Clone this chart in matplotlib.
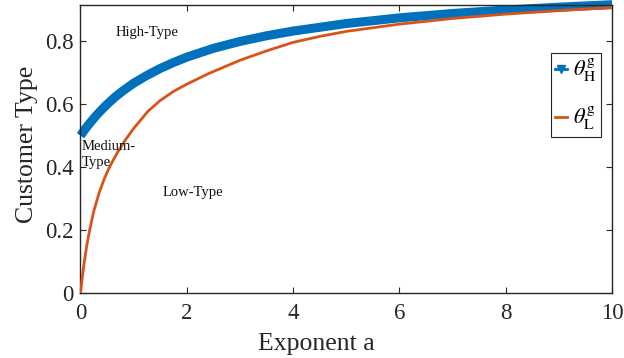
import matplotlib
matplotlib.use("Agg")
import matplotlib.pyplot as plt
from matplotlib.lines import Line2D

# Exponent values and customer-type thresholds
a_high = [0, 0.1, 0.2, 0.3, 0.4, 0.5, 0.65, 0.8, 1.0, 1.25, 1.5, 1.75, 2.0, 2.5,
          3.0, 3.5, 4.0, 5.0, 6.0, 7.0, 8.0, 9.0, 10.0]
theta_high = [0.5, 0.524, 0.545, 0.565, 0.583, 0.6, 0.623, 0.643, 0.667, 0.692,
              0.714, 0.733, 0.75, 0.778, 0.8, 0.818, 0.833, 0.857, 0.875, 0.889,
              0.9, 0.909, 0.917]

a_low = [0, 0.03, 0.07, 0.12, 0.17, 0.25, 0.35, 0.45, 0.55, 0.7, 0.85, 1.0, 1.27,
         1.5, 1.75, 2.0, 2.4, 3.0, 3.5, 4.0, 4.5, 5.0, 6.0, 7.0, 8.0, 9.0, 10.0]
theta_low = [0, 0.044, 0.097, 0.152, 0.198, 0.26, 0.318, 0.364, 0.402, 0.448,
             0.488, 0.523, 0.578, 0.612, 0.641, 0.664, 0.697, 0.74, 0.77, 0.797,
             0.816, 0.832, 0.855, 0.873, 0.887, 0.898, 0.908]

x_ticks = [0, 2, 4, 6, 8, 10]
y_ticks = [0, 0.2, 0.4, 0.6, 0.8]
y_tick_labels = ["0", "0.2", "0.4", "0.6", "0.8"]

BLUE = "#0072BD"
ORANGE = "#D95319"
AXCOL = "#262626"

plt.rcParams["font.family"] = ["Liberation Serif", "DejaVu Serif"]
plt.rcParams["mathtext.fontset"] = "stix"

fig = plt.figure(figsize=(6.24, 3.58), dpi=100)
ax = fig.add_axes([0.129, 0.182, 0.852, 0.805])

ax.plot(a_high, theta_high, color=BLUE, lw=6.5, solid_capstyle="butt",
        solid_joinstyle="round", clip_on=False, zorder=2)
ax.plot(a_low, theta_low, color=ORANGE, lw=2.0, solid_joinstyle="round", zorder=3)

ax.set_xlim(0, 10)
ax.set_ylim(0, 0.917)
ax.set_xticks(x_ticks)
ax.set_xticklabels([str(t) for t in x_ticks])
ax.set_yticks(y_ticks)
ax.set_yticklabels(y_tick_labels)

ax.tick_params(direction="in", length=4, width=0.8, colors=AXCOL, labelsize=16.5,
               top=True, right=True)
ax.tick_params(axis="x", pad=7)
ax.tick_params(axis="y", pad=5)
for s in ax.spines.values():
    s.set_color(AXCOL)
    s.set_linewidth(1.0)

ax.set_xlabel("Exponent a", fontsize=18.5, color=AXCOL)
ax.set_ylabel("Customer Type", fontsize=18.5, color=AXCOL)
ax.xaxis.set_label_coords(0.444, -0.14)
ax.yaxis.set_label_coords(-0.08, 0.515)

ax.text(0.66, 0.827, "High-Type", fontsize=10.5, va="center", ha="left", color="#111111")
ax.text(0.02, 0.44, "Medium-\nType", fontsize=10.5, va="center", ha="left",
        color="#111111", linespacing=1.3)
ax.text(1.55, 0.318, "Low-Type", fontsize=10.5, va="center", ha="left", color="#111111")

handles = [
    Line2D([], [], color=BLUE, lw=2.0, marker="v", markersize=6, markevery=[1]),
    Line2D([], [], color=ORANGE, lw=2.0),
]
labels = [r"$\theta^{\mathrm{g}}_{\mathrm{H}}$", r"$\theta^{\mathrm{g}}_{\mathrm{L}}$"]
leg = ax.legend(handles, labels, loc="upper right", bbox_to_anchor=(0.979, 0.833),
                fontsize=16, handlelength=0.55, handletextpad=0.25, borderpad=0.2,
                labelspacing=0.95, fancybox=False, framealpha=1, borderaxespad=0)
leg.get_frame().set_edgecolor(AXCOL)
leg.get_frame().set_linewidth(0.8)

fig.savefig("out.png", dpi=100)
